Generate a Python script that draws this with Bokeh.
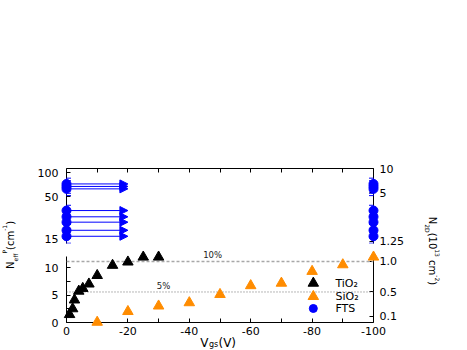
from bokeh.plotting import figure
from bokeh.models import (Range1d, LinearAxis, LogAxis, LogScale, FixedTicker,
                          CustomJSTickFormatter, ColumnDataSource, Whisker, TeeHead,
                          Arrow, NormalHead, Span, Label)
from bokeh.core.properties import value
from bokeh.layouts import row, column
from bokeh.embed import file_html
from bokeh.resources import INLINE
import math

FONT = "DejaVu Sans"

# ---------------- data ----------------
vgs_tio2 = [-1, -2, -2.6, -4, -5.3, -7.3, -10, -15, -20, -25, -30]
n_tio2 = [1.45, 2.5, 4.1, 5.7, 6.2, 7.0, 8.55, 10.4, 11.0, 11.9, 11.9]

vgs_sio2 = [-10, -20, -30, -40, -50, -60, -70, -80, -90, -100]
n_sio2 = [0.05, 2.0, 3.0, 3.6, 5.1, 6.7, 7.15, 9.3, 10.5, 11.9]

fts_n = [72, 67, 62.5, 33.5, 28, 24, 19, 16]
fts_err = [13, 12, 11, 5.5, 5, 4.3, 3.4, 2.9]
fts_vgs = [0, -100]          # FTS values shown at both ends
fts_arrow_to = -20           # arrows pointing to larger |Vgs|

ratio = 11.1                 # N_eff^P / N_2D scale factor
pct_levels = [1.0, 0.5]      # N_2D (10^13 cm^-2) levels
pct_labels = ["10%", "5%"]
pct_label_vgs = [-47.6, -31.6]

legend_labels = ["TiO₂", "SiO₂", "FTS"]

x_ticks = list(range(0, -101, -10))
top_left_ticks = [15, 50, 100]
top_right_ticks = [1.25, 5, 10]
bot_left_ticks = [0, 2.5, 5, 7.5, 10]
bot_right_ticks = [0.1, 0.5, 1.0]

top_ylim = (13, 112.2)
bot_ylim = (0, 12)
xlim = (0, -100)

BLUE = "#0000ff"
ORANGE = "#ff8c00"
BLACK = "#000000"


def style_axis(ax, standoff):
    ax.major_tick_in = 4
    ax.major_tick_out = 0
    ax.minor_tick_in = 0
    ax.minor_tick_out = 0
    ax.axis_line_color = "black"
    ax.major_tick_line_color = "black"
    ax.major_label_text_font = FONT
    ax.major_label_text_font_size = "11px"
    ax.major_label_text_color = "black"
    ax.major_label_standoff = standoff


def free_text(fig, x, y, txt, size, align="left", baseline="alphabetic", color="black"):
    r = fig.text(x=[x], y=[y], text=[txt], text_font=value(FONT), text_font_size=size,
                 text_align=align, text_baseline=baseline, text_color=color)
    r.level = "overlay"
    return r


# ---------------- top panel (log) ----------------
top = figure(width=387, height=249, x_range=Range1d(*xlim), y_range=Range1d(*top_ylim),
             y_axis_type="log", x_axis_location=None, y_axis_location=None,
             output_backend="svg", toolbar_location=None,
             min_border_left=38, min_border_right=42, min_border_top=168, min_border_bottom=6,
             outline_line_color=None)
top.grid.visible = False
top.extra_y_ranges = {"r": Range1d(top_ylim[0] / ratio, top_ylim[1] / ratio)}
top.extra_y_scales = {"r": LogScale()}

ax = LogAxis(ticker=FixedTicker(ticks=top_left_ticks),
             formatter=CustomJSTickFormatter(code="return tick.toString()"))
style_axis(ax, 8)
top.add_layout(ax, "left")
ax = LogAxis(y_range_name="r", ticker=FixedTicker(ticks=top_right_ticks),
             formatter=CustomJSTickFormatter(code="return tick.toString()"))
style_axis(ax, 6)
top.add_layout(ax, "right")
ax = LinearAxis(ticker=FixedTicker(ticks=x_ticks),
                formatter=CustomJSTickFormatter(code="return ''"))
style_axis(ax, 0)
top.add_layout(ax, "above")

for xv in fts_vgs:
    src = ColumnDataSource(dict(x=[xv] * len(fts_n), y=fts_n,
                                up=[v + e for v, e in zip(fts_n, fts_err)],
                                lo=[v - e for v, e in zip(fts_n, fts_err)],
                                x1=[fts_arrow_to] * len(fts_n)))
    w = Whisker(base="x", upper="up", lower="lo", source=src, dimension="height",
                line_color=BLUE, line_width=1,
                upper_head=TeeHead(size=9, line_color=BLUE, line_width=1),
                lower_head=TeeHead(size=9, line_color=BLUE, line_width=1))
    w.level = "overlay"
    top.add_layout(w)
    if xv == fts_vgs[0]:
        arr = Arrow(x_start="x", y_start="y", x_end="x1", y_end="y", source=src,
                    line_color=BLUE, line_width=1,
                    end=NormalHead(size=8, fill_color=BLUE, line_color=BLUE))
        top.add_layout(arr)
    r = top.scatter("x", "y", source=src, marker="circle", size=9,
                    fill_color=BLUE, line_color=BLUE)
    r.level = "overlay"

# ---------------- bottom panel (linear) ----------------
bot = figure(width=387, height=101, x_range=Range1d(*xlim), y_range=Range1d(*bot_ylim),
             x_axis_location=None, y_axis_location=None,
             output_backend="svg", toolbar_location=None,
             min_border_left=38, min_border_right=42, min_border_top=7, min_border_bottom=28,
             outline_line_color=None)
bot.grid.visible = False
bot.extra_y_ranges = {"r": Range1d(bot_ylim[0] / ratio, bot_ylim[1] / ratio)}

ax = LinearAxis(ticker=FixedTicker(ticks=bot_left_ticks),
                formatter=CustomJSTickFormatter(
                    code="return (tick % 5 === 0) ? tick.toFixed(0) : ''"))
style_axis(ax, 8)
bot.add_layout(ax, "left")
ax = LinearAxis(y_range_name="r", ticker=FixedTicker(ticks=bot_right_ticks),
                formatter=CustomJSTickFormatter(code="return tick.toFixed(1)"))
style_axis(ax, 6)
bot.add_layout(ax, "right")
ax = LinearAxis(ticker=FixedTicker(ticks=x_ticks),
                formatter=CustomJSTickFormatter(
                    code="return (tick % 20 === 0) ? tick.toFixed(0) : ''"))
style_axis(ax, 4)
bot.add_layout(ax, "below")

bot.add_layout(Span(location=pct_levels[0] * ratio, dimension="width", line_color="#a8a8a8",
                    line_width=1.6, line_dash="3 2"))
bot.add_layout(Span(location=pct_levels[1] * ratio, dimension="width", line_color="#707070",
                    line_width=1, line_dash="1 2"))
for lab, xv, lv in zip(pct_labels, pct_label_vgs, pct_levels):
    free_text(bot, xv, lv * ratio + 0.25, lab, "8.5px", align="center",
              baseline="bottom", color="#222222")

r_ti = bot.scatter(vgs_tio2, n_tio2, marker="triangle", size=10.5,
                   fill_color=BLACK, line_color=BLACK)
r_si = bot.scatter(vgs_sio2, n_sio2, marker="triangle", size=10.5,
                   fill_color=ORANGE, line_color=ORANGE)
r_ti.level = "overlay"
r_si.level = "overlay"

# legend (drawn by hand so that markers keep their plot size)
leg_x, leg_text_x = -80.4, -87.6
leg_y = [7.15, 4.73, 2.55]
for lab, yy, mk, col in zip(legend_labels, leg_y, ["triangle", "triangle", "circle"],
                            [BLACK, ORANGE, BLUE]):
    rr = bot.scatter([leg_x], [yy], marker=mk, size=10.5 if mk == "triangle" else 8,
                     fill_color=col, line_color=col)
    rr.level = "overlay"
    free_text(bot, leg_text_x, yy, lab, "11px", baseline="middle")

# V_gs (V) label
free_text(bot, -43.6, -3.64, "V", "12px")
free_text(bot, -46.4, -4.09, "gs", "8px")
free_text(bot, -49.5, -3.64, "(V)", "12px")


# ---------------- side label strips ----------------
H = 350


def strip(w):
    f = figure(width=w, height=H, x_range=Range1d(0, w), y_range=Range1d(0, H),
               x_axis_location=None, y_axis_location=None, min_border=0,
               output_backend="svg", toolbar_location=None, outline_line_color=None)
    f.grid.visible = False
    return f


lab_left = strip(28)
for txt, px, py, fs in [("N", 10, 268.5, 10), ("eff", 15, 261, 6), ("P", 4, 253, 6),
                        ("(cm", 10, 249.4, 10), ("-1", 4, 230.3, 6), (")", 10, 224.3, 10)]:
    lab_left.add_layout(Label(x=px, y=H - py, text=txt, angle=math.pi / 2,
                              text_align="left", text_baseline="middle", text_font=FONT,
                              text_font_size=f"{fs}px", text_color="black"))

lab_right = strip(50)
for txt, px, py, fs in [("N", 431.5, 216.3, 10), ("2D", 426.5, 223.8, 6),
                        ("(10", 431.5, 232.2, 10), ("13", 436.5, 248.8, 6),
                        ("cm", 431.5, 259.6, 10), ("-2", 436.5, 274.8, 6),
                        (")", 431.5, 280.8, 10)]:
    lab_right.add_layout(Label(x=px - 415, y=H - py, text=txt, angle=-math.pi / 2,
                               text_align="left", text_baseline="middle", text_font=FONT,
                               text_font_size=f"{fs}px", text_color="black"))

layout = row(lab_left, column(top, bot), lab_right)
open("out.html", "w").write(file_html(layout, INLINE))
